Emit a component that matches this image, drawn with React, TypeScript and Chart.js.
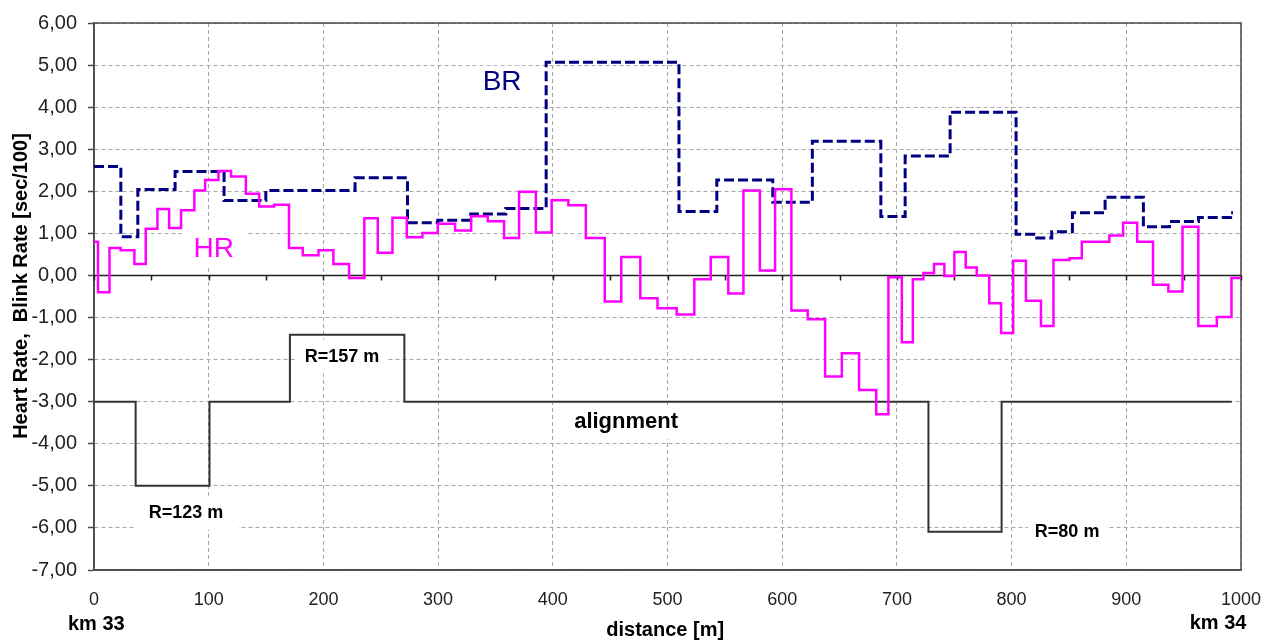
import React, { useEffect, useRef } from 'react';
import { Chart, registerables } from 'chart.js';

Chart.register(...registerables);

// Heart rate (HR) step series: start of each step [m] and value
const hrX = [0, 3.5, 13.5, 23.3, 35.2, 45.1, 55.3, 65.5, 75.9, 87.5, 96.9, 108.5, 119.5, 132.4, 144, 157, 170, 182, 195.7, 208.7, 222.4, 235.7, 247.4, 260.2, 272.7, 286.3, 299.7, 314.8, 328.8, 343.3, 357.5, 370.6, 385.2, 399, 413.6, 428.8, 445.3, 459.7, 476.3, 491.3, 508, 523.4, 537.7, 553, 566.2, 580.5, 593.8, 608, 622.2, 637.4, 652, 667, 682, 692.6, 704.3, 713.9, 723.1, 732.4, 741.4, 750.1, 760, 769.6, 780.5, 790.8, 801.4, 812.5, 825.6, 836.5, 850.4, 861.2, 885.2, 897.2, 909.5, 923.3, 936.7, 949, 962.8, 978.9, 991.7, 1000];
const hrY = [0.8, -0.4, 0.65, 0.6, 0.27, 1.11, 1.58, 1.13, 1.55, 2.02, 2.27, 2.48, 2.35, 1.94, 1.64, 1.68, 0.65, 0.48, 0.6, 0.27, -0.06, 1.36, 0.54, 1.37, 0.91, 1.01, 1.23, 1.07, 1.41, 1.29, 0.89, 1.99, 1.02, 1.79, 1.67, 0.89, -0.62, 0.44, -0.54, -0.78, -0.93, -0.09, 0.44, -0.43, 2.02, 0.12, 2.05, -0.83, -1.04, -2.4, -1.85, -2.72, -3.3, -0.04, -1.59, -0.09, 0.06, 0.27, -0.01, 0.56, 0.19, 0.0, -0.66, -1.37, 0.35, -0.6, -1.2, 0.37, 0.41, 0.8, 0.95, 1.25, 0.8, -0.22, -0.38, 1.16, -1.2, -0.99, -0.06, -0.06];

// Blink rate (BR) step series
const brX = [0, 23.4, 38.2, 70.7, 113.4, 149.8, 227.6, 273.3, 299.7, 328.5, 359, 394.2, 510, 543, 591.8, 626.3, 686, 707.2, 746.4, 803.9, 820.5, 835, 853, 881.5, 914.9, 937.6, 962.9, 991, 993];
const brY = [2.59, 0.92, 2.04, 2.47, 1.78, 2.02, 2.32, 1.25, 1.31, 1.46, 1.59, 5.07, 1.52, 2.27, 1.74, 3.19, 1.4, 2.84, 3.88, 0.98, 0.89, 1.04, 1.49, 1.86, 1.16, 1.28, 1.38, 1.49, 1.49];

// Road alignment step series
const alX = [0, 36.3, 100.7, 170.8, 270.6, 727.5, 791.3, 992];
const alY = [-3, -5, -3, -1.41, -3, -6.09, -3, -3];

// Axis ranges / ticks
const xMin = 0, xMax = 1000, xStep = 100, xMinorStep = 50;
const yMin = -7, yMax = 6, yStep = 1;

// Text annotations (data coordinates)
const notes = [
  { text: 'BR', x: 355.8, y: 4.58, font: '28px "Liberation Sans"', color: '#000080', boxW: 56 },
  { text: 'HR', x: 104.3, y: 0.63, font: '28px "Liberation Sans"', color: '#FF00FF', boxW: 64 },
  { text: 'R=123 m', x: 80.3, y: -5.64, font: 'bold 18px "Liberation Sans"', color: '#000', boxW: 104 },
  { text: 'R=157 m', x: 216.3, y: -1.93, font: 'bold 18px "Liberation Sans"', color: '#000', boxW: 90 },
  { text: 'alignment', x: 463.9, y: -3.49, font: 'bold 22px "Liberation Sans"', color: '#000', boxW: 128 },
  { text: 'R=80 m', x: 848.4, y: -6.09, font: 'bold 18px "Liberation Sans"', color: '#000', boxW: 78 },
];

const pts = (xs: number[], ys: number[]) => xs.map((x, i) => ({ x, y: ys[i] }));

const overlay = {
  id: 'overlay',
  beforeDatasetsDraw(chart: any) {
    const { ctx, chartArea: ca, scales } = chart;
    const x = scales.x, y = scales.y;
    ctx.save();
    ctx.fillStyle = '#ffffff';
    for (const n of notes) {
      const px = x.getPixelForValue(n.x);
      const py = y.getPixelForValue(n.y);
      ctx.fillRect(px - n.boxW / 2, py - 17, n.boxW, 34);
    }
    ctx.strokeStyle = '#4a4a4a';
    ctx.lineWidth = 1.5;
    ctx.setLineDash([]);
    ctx.strokeRect(ca.left, ca.top, ca.right - ca.left, ca.bottom - ca.top);
    const y0 = y.getPixelForValue(0);
    ctx.strokeStyle = '#202020';
    ctx.lineWidth = 1.5;
    ctx.beginPath();
    ctx.moveTo(ca.left, y0);
    ctx.lineTo(ca.right, y0);
    for (let v = xMin; v <= xMax; v += xMinorStep) {
      const px = Math.round(x.getPixelForValue(v)) + 0.5;
      ctx.moveTo(px, y0);
      ctx.lineTo(px, y0 + 5);
    }
    ctx.stroke();
    ctx.restore();
  },
  afterDatasetsDraw(chart: any) {
    const { ctx, scales } = chart;
    ctx.save();
    ctx.textAlign = 'center';
    ctx.textBaseline = 'middle';
    for (const n of notes) {
      ctx.font = n.font;
      ctx.fillStyle = n.color;
      ctx.fillText(n.text, scales.x.getPixelForValue(n.x), scales.y.getPixelForValue(n.y));
    }
    ctx.restore();
  },
  afterDraw(chart: any) {
    const { ctx, scales } = chart;
    ctx.save();
    ctx.fillStyle = '#000';
    ctx.textAlign = 'center';
    ctx.textBaseline = 'middle';
    ctx.font = 'bold 20px "Liberation Sans"';
    ctx.fillText('km 33', scales.x.getPixelForValue(2), 624);
    ctx.fillText('km 34', scales.x.getPixelForValue(980), 623);
    ctx.fillText('distance [m]', scales.x.getPixelForValue(498), 630);
    ctx.translate(21, 286);
    ctx.rotate(-Math.PI / 2);
    ctx.fillText('Heart Rate,  Blink Rate [sec/100]', 0, 0);
    ctx.restore();
  },
};

export default function App() {
  const ref = useRef<HTMLCanvasElement | null>(null);
  useEffect(() => {
    if (!ref.current) return;
    const chart = new Chart(ref.current, {
      type: 'line',
      data: {
        datasets: [
          {
            label: 'HR',
            data: pts(hrX, hrY),
            borderColor: '#FF00FF',
            borderWidth: 2.5,
            pointRadius: 0,
            stepped: true,
            fill: false,
            borderJoinStyle: 'miter',
          },
          {
            label: 'BR',
            data: pts(brX, brY),
            borderColor: '#000080',
            borderWidth: 3,
            borderDash: [10, 4],
            pointRadius: 0,
            stepped: true,
            fill: false,
            borderJoinStyle: 'miter',
          },
          {
            label: 'alignment',
            data: pts(alX, alY),
            borderColor: '#333333',
            borderWidth: 2,
            pointRadius: 0,
            stepped: true,
            fill: false,
            borderJoinStyle: 'miter',
          },
        ],
      },
      options: {
        responsive: false,
        animation: false,
        layout: { padding: { left: 0, right: 30, top: 18, bottom: 0 } },
        plugins: { legend: { display: false }, tooltip: { enabled: false } },
        scales: {
          x: {
            type: 'linear',
            min: xMin,
            max: xMax,
            afterFit: (s: any) => { s.height = 71; },
            ticks: {
              stepSize: xStep,
              padding: 0,
              color: '#222',
              font: { family: 'Liberation Sans', size: 18 },
              maxRotation: 0,
              callback: (v: any) => String(v),
            },
            grid: {
              color: '#a6a6a6',
              lineWidth: 1,
              drawTicks: true,
              tickLength: 19,
              tickColor: 'rgba(0,0,0,0)',
            },
            border: { display: true, color: '#4a4a4a', width: 1.5, dash: [4, 3] },
          },
          y: {
            type: 'linear',
            min: yMin,
            max: yMax,
            afterFit: (s: any) => { s.width = 94; },
            ticks: {
              stepSize: yStep,
              padding: 11,
              color: '#222',
              font: { family: 'Liberation Sans', size: 20 },
              callback: (v: any) => Number(v).toFixed(2).replace('.', ','),
            },
            grid: {
              color: '#a6a6a6',
              lineWidth: 1,
              drawTicks: true,
              tickLength: 6,
              tickColor: '#4a4a4a',
              tickWidth: 1.5,
              tickBorderDash: [],
            },
            border: { display: true, color: '#4a4a4a', width: 1.5, dash: [4, 3] },
          },
        },
      },
      plugins: [overlay],
    });
    return () => chart.destroy();
  }, []);
  return (
    <div style={{ position: 'fixed', left: 0, top: 0, width: 1271, height: 641, background: '#fff' }}>
      <canvas ref={ref} width={1271} height={641} style={{ display: 'block', width: 1271, height: 641 }} />
    </div>
  );
}
